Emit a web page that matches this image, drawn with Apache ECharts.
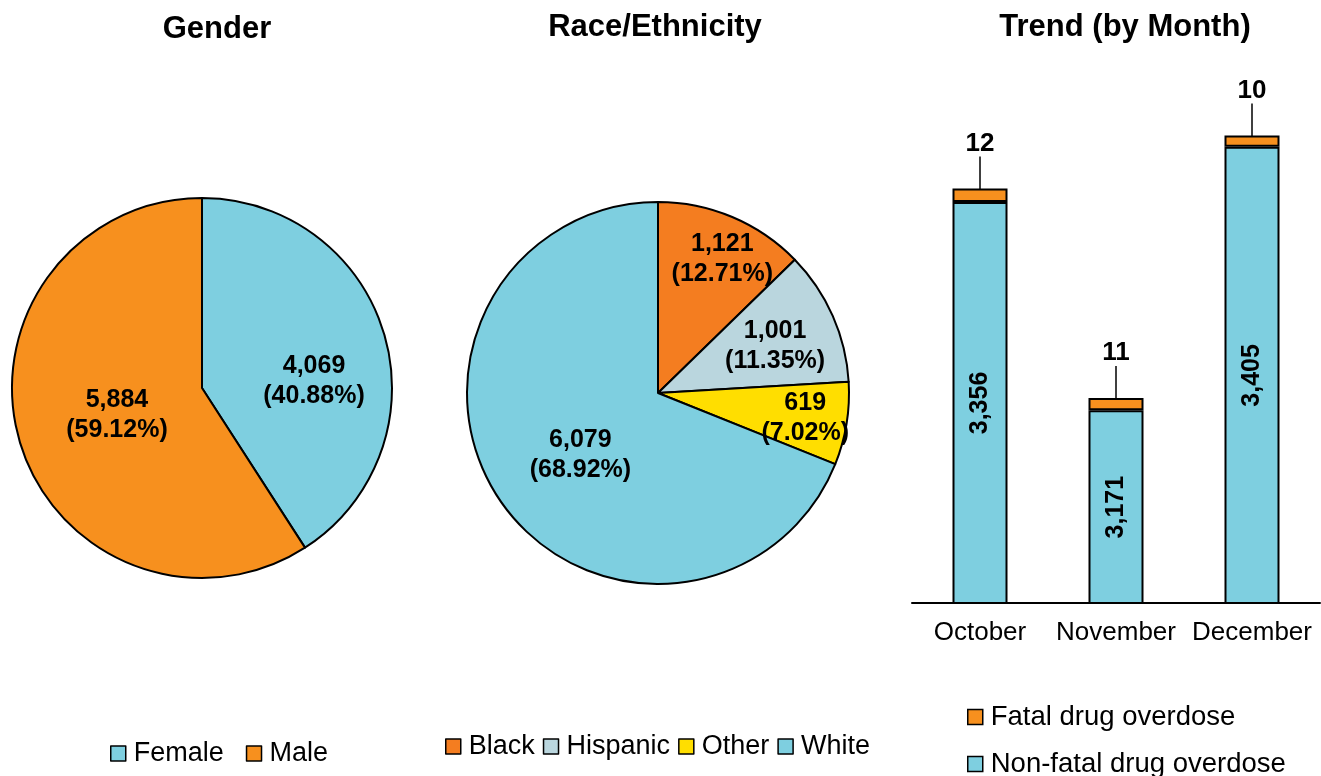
<!DOCTYPE html>
<html>
<head>
<meta charset="utf-8">
<script src="https://cdn.jsdelivr.net/npm/echarts@6/dist/echarts.min.js"></script>
<style>html,body{margin:0;padding:0;background:#fff}#c{width:1321px;height:776px}</style>
</head>
<body>
<div id="c"></div>
<script>
const genderNames = ['Female', 'Male'];
const genderValues = [4069, 5884];
const raceNames = ['Black', 'Hispanic', 'Other', 'White'];
const raceValues = [1121, 1001, 619, 6079];
const months = ['October', 'November', 'December'];
const nonFatal = [3356, 3171, 3405];
const fatal = [12, 11, 10];
const trendNames = ['Fatal drug overdose', 'Non-fatal drug overdose'];

const FONT = '"Liberation Sans", Arial, sans-serif';
const BLUE = '#7ECFE0', ORANGE = '#F7901E';
const genderColors = [BLUE, ORANGE];
const raceColors = ['#F47D20', '#BAD6DE', '#FFDE00', BLUE];
const genderLabelShift = [[18, 21], [9, -1]];
const raceLabelShift = [[26, -43], [27, -7], [50, 9], [4, 7]];

const fmtPie = p => p.value.toLocaleString('en-US') + '\n(' + p.percent.toFixed(2) + '%)';
const pieLabel = {show: true, position: 'inside', formatter: fmtPie, color: '#000',
  fontFamily: FONT, fontWeight: 'bold', fontSize: 25, lineHeight: 30};
const outline = {borderColor: '#000', borderWidth: 2};
const mkLegend = (size) => ({itemWidth: 15, itemHeight: 15, icon: 'rect', padding: 0,
  textStyle: {fontFamily: FONT, fontSize: size, color: '#000', padding: [0, 0, 0, 3]},
  itemStyle: {borderColor: '#000', borderWidth: 1.5}});

const chart = echarts.init(document.getElementById('c'), null, {renderer: 'canvas'});
chart.setOption({
  animation: false,
  title: [
    {text: 'Gender', left: 212, top: 9, textAlign: 'center'},
    {text: 'Race/Ethnicity', left: 650, top: 7, textAlign: 'center'},
    {text: 'Trend (by Month)', left: 1120, top: 7, textAlign: 'center'}
  ].map(t => Object.assign(t, {textStyle: {fontFamily: FONT, fontSize: 31, fontWeight: 'bold', color: '#000'}})),
  legend: [
    Object.assign({data: genderNames, left: 110, top: 740, itemGap: 22}, mkLegend(27)),
    Object.assign({data: raceNames, left: 445, top: 733, itemGap: 8}, mkLegend(27)),
    Object.assign({data: [trendNames[0]], left: 967, top: 703}, mkLegend(27.5)),
    Object.assign({data: [trendNames[1]], left: 967, top: 750}, mkLegend(27.5))
  ],
  grid: {left: 912, right: 1, top: 96, bottom: 173},
  xAxis: {type: 'category', data: months,
    axisLine: {lineStyle: {color: '#000', width: 2}}, axisTick: {show: false},
    axisLabel: {interval: 0, fontFamily: FONT, fontSize: 26, color: '#000', margin: 17}},
  yAxis: {type: 'value', min: 3000, max: 3450, show: false, splitLine: {show: false}},
  series: [
    {type: 'pie', center: [202, 388], radius: 190, startAngle: 90, clockwise: true,
      itemStyle: outline, label: pieLabel, labelLine: {show: false},
      labelLayout: p => ({dx: genderLabelShift[p.dataIndex][0], dy: genderLabelShift[p.dataIndex][1]}),
      emphasis: {disabled: true},
      data: genderNames.map((n, i) => ({name: n, value: genderValues[i], itemStyle: {color: genderColors[i]}}))},
    {type: 'pie', center: [658, 393], radius: 191, startAngle: 90, clockwise: true,
      itemStyle: outline, label: pieLabel, labelLine: {show: false},
      labelLayout: p => ({dx: raceLabelShift[p.dataIndex][0], dy: raceLabelShift[p.dataIndex][1]}),
      emphasis: {disabled: true},
      data: raceNames.map((n, i) => ({name: n, value: raceValues[i], itemStyle: {color: raceColors[i]}}))},
    {type: 'bar', name: trendNames[1], stack: 'm', data: nonFatal, barWidth: 55,
      itemStyle: Object.assign({color: BLUE}, outline),
      label: {show: true, position: 'inside', rotate: 90, fontFamily: FONT, fontSize: 25,
        fontWeight: 'bold', color: '#000', formatter: p => p.value.toLocaleString('en-US')}},
    {type: 'bar', name: trendNames[0], stack: 'm', data: fatal, barWidth: 55,
      itemStyle: Object.assign({color: ORANGE}, outline),
      label: {show: true, position: 'top', distance: 4, fontFamily: FONT, fontSize: 26,
        fontWeight: 'bold', color: '#000'},
      labelLayout: {dy: -28},
      labelLine: {show: true, lineStyle: {color: '#000', width: 1.5}}}
  ]
});
</script>
</body>
</html>
